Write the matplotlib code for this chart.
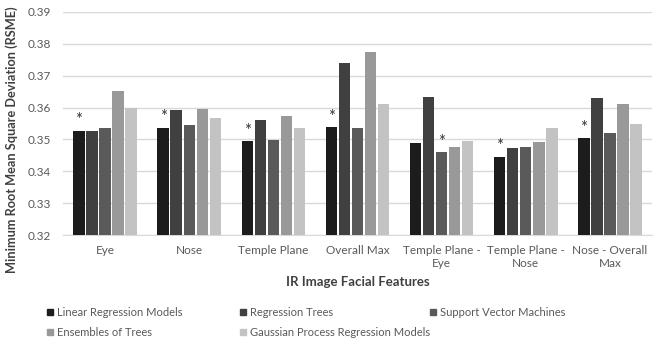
import matplotlib
matplotlib.use("Agg")
import matplotlib.pyplot as plt
from matplotlib.patches import Rectangle
import numpy as np

plt.rcParams['font.family'] = ['Lato', 'DejaVu Sans']

categories = ["Eye", "Nose", "Temple Plane", "Overall Max",
              "Temple Plane -\nEye", "Temple Plane -\nNose", "Nose - Overall\nMax"]
series_names = ["Linear Regression Models", "Regression Trees", "Support Vector Machines",
                "Ensembles of Trees", "Gaussian Process Regression Models"]
linear_reg = [0.3527, 0.3537, 0.3494, 0.3538, 0.3490, 0.3446, 0.3504]
reg_trees = [0.3526, 0.3591, 0.3560, 0.3740, 0.3634, 0.3472, 0.3630]
svm = [0.3537, 0.3546, 0.3499, 0.3537, 0.3459, 0.3476, 0.3521]
ensembles = [0.3652, 0.3594, 0.3575, 0.3775, 0.3477, 0.3491, 0.3611]
gpr = [0.3600, 0.3568, 0.3537, 0.3611, 0.3495, 0.3537, 0.3548]
# index of the series marked with an asterisk in each group
star_series = [0, 0, 0, 0, 2, 0, 0]
y_ticks = [0.32, 0.33, 0.34, 0.35, 0.36, 0.37, 0.38, 0.39]

values = [linear_reg, reg_trees, svm, ensembles, gpr]
colors = ["#1c1c1c", "#404040", "#5a5a5a", "#999999", "#c3c3c3"]

fig = plt.figure(figsize=(6.61, 3.42), dpi=100)
ax = fig.add_axes([63/661, 1-235/342, (652-63)/661, (235-12)/342])

x = np.arange(len(categories))
pitch = 0.155
width = 0.135
for i, (vals, c) in enumerate(zip(values, colors)):
    offs = (i - 2) * pitch
    ax.bar(x + offs, vals, width=width, color=c, zorder=3)

for g, s in enumerate(star_series):
    ax.text(x[g] + (s - 2) * pitch, values[s][g] + 0.0008, "*", ha="center", va="bottom",
            fontsize=12, color="#333333", zorder=4)

ax.set_ylim(0.32, 0.39)
ax.set_xlim(-0.5, len(categories) - 0.5)
ax.set_yticks(y_ticks)
ax.set_yticklabels([f"{t:.2f}" for t in y_ticks])
ax.set_xticks(x)
ax.set_xticklabels(categories, linespacing=1.3)
ax.yaxis.grid(True, color="#d9d9d9", lw=1, zorder=0)
for s in ["top", "right", "left"]:
    ax.spines[s].set_visible(False)
ax.spines["bottom"].set_color("#d9d9d9")
ax.tick_params(axis="both", length=0, labelsize=8.5, labelcolor="#595959")
ax.tick_params(axis="x", pad=7)
ax.tick_params(axis="y", pad=9)

fig.text(358/661, 1-282/342, "IR Image Facial Features", ha="center", va="center",
         fontsize=9.5, fontweight="bold", color="#404040")
fig.text(12/661, 1-140/342, "Minimum Root Mean Square Deviation (RSME)", ha="center", va="center",
         rotation=90, fontsize=9.2, fontweight="bold", color="#404040")

# legend laid out row-wise
leg_x = [47, 240, 430]
leg_y = [312, 332]
sq = 6
for i, (name, c) in enumerate(zip(series_names, colors)):
    r, col = divmod(i, 3)
    px, py = leg_x[col], leg_y[r]
    fig.patches.append(Rectangle((px/661, (342-py-sq/2)/342), sq/661, sq/342,
                                 transform=fig.transFigure, color=c, figure=fig))
    fig.text((px+10)/661, 1-py/342, name, ha="left", va="center", fontsize=8,
             color="#595959")

fig.savefig("out.png", dpi=100)
